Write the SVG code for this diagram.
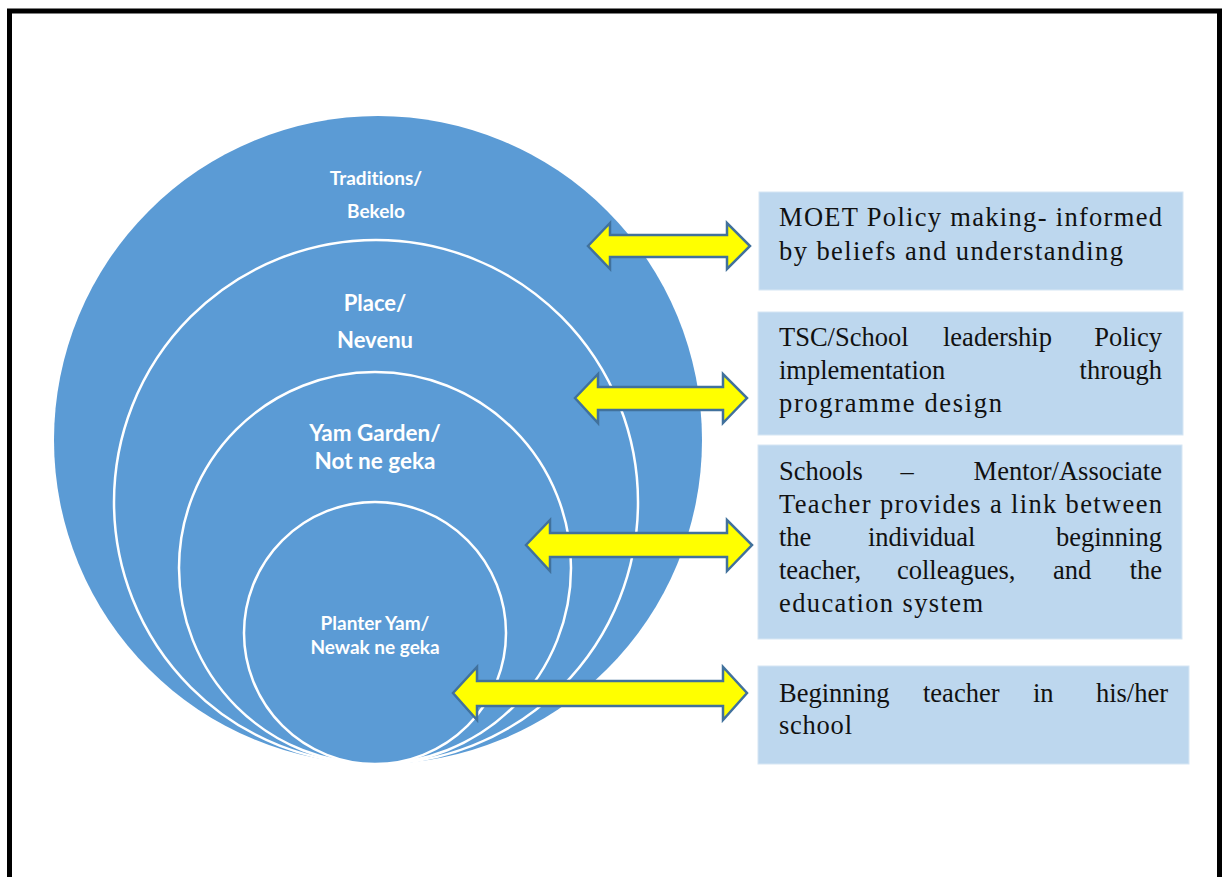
<svg xmlns="http://www.w3.org/2000/svg" width="1225" height="877" viewBox="0 0 1225 877">
<style>
.ring{fill:#5B9BD5;stroke:#FFFFFF;stroke-width:2.5}
.outer{fill:#5B9BD5;stroke:none}
.lbl{font-family:Lato,"Open Sans","Liberation Sans",sans-serif;font-weight:bold;fill:#FFFFFF;text-anchor:middle;font-variant-ligatures:none}
.box{fill:#BDD7EE;stroke:#D6E6F4;stroke-width:1}
.txt{font-family:"Liberation Serif","Times New Roman",serif;font-size:26.5px;fill:#111111}
.arrow{fill:#FFFF00;stroke:#41719C;stroke-width:2.5;stroke-linejoin:miter}
</style>
<rect x="0" y="0" width="1225" height="877" fill="#FFFFFF"/>
<rect x="9.5" y="11" width="1210" height="900" fill="none" stroke="#000000" stroke-width="5"/>

<g id="circle-traditions">
<circle class="outer" cx="378" cy="440" r="324"/>
<text class="lbl" x="376" y="185" font-size="19">Traditions/</text>
<text class="lbl" x="376" y="218" font-size="19">Bekelo</text>
</g>
<g id="circle-place">
<circle class="ring" cx="376" cy="502" r="262"/>
<text class="lbl" x="375" y="311" font-size="22">Place/</text>
<text class="lbl" x="375" y="348" font-size="22">Nevenu</text>
</g>
<g id="circle-yamgarden">
<circle class="ring" cx="375" cy="568" r="196"/>
<text class="lbl" x="375" y="441" font-size="22.5">Yam Garden/</text>
<text class="lbl" x="375" y="469" font-size="22.5">Not ne geka</text>
</g>
<g id="circle-planteryam">
<circle class="ring" cx="375" cy="633" r="131"/>
<text class="lbl" x="375" y="630" font-size="19">Planter Yam/</text>
<text class="lbl" x="375" y="654" font-size="19">Newak ne geka</text>
</g>

<g id="box-moet">
<rect class="box" x="759" y="192" width="424" height="98"/>
<text class="txt" x="779" y="226" textLength="383" lengthAdjust="spacing">MOET Policy making- informed</text>
<text class="txt" x="779" y="260" textLength="344" lengthAdjust="spacing">by beliefs and understanding</text>
</g>
<g id="box-tsc">
<rect class="box" x="758" y="312" width="425" height="123"/>
<text class="txt" y="346"><tspan x="779">TSC/School</tspan><tspan x="943">leadership</tspan><tspan x="1162" text-anchor="end">Policy</tspan></text>
<text class="txt" y="379"><tspan x="779">implementation</tspan><tspan x="1162" text-anchor="end">through</tspan></text>
<text class="txt" x="779" y="412" textLength="223" lengthAdjust="spacing">programme design</text>
</g>
<g id="box-schools">
<rect class="box" x="758" y="445" width="424" height="194"/>
<text class="txt" y="480"><tspan x="779">Schools</tspan><tspan x="907" text-anchor="middle">–</tspan><tspan x="1162" text-anchor="end">Mentor/Associate</tspan></text>
<text class="txt" x="779" y="513" textLength="383" lengthAdjust="spacing">Teacher provides a link between</text>
<text class="txt" y="546"><tspan x="779">the</tspan><tspan x="868">individual</tspan><tspan x="1162" text-anchor="end">beginning</tspan></text>
<text class="txt" y="579"><tspan x="779">teacher,</tspan><tspan x="897">colleagues,</tspan><tspan x="1053">and</tspan><tspan x="1162" text-anchor="end">the</tspan></text>
<text class="txt" x="779" y="612" textLength="204" lengthAdjust="spacing">education system</text>
</g>
<g id="box-beginning">
<rect class="box" x="758" y="666" width="431" height="98"/>
<text class="txt" y="702"><tspan x="779">Beginning</tspan><tspan x="923">teacher</tspan><tspan x="1033">in</tspan><tspan x="1168" text-anchor="end">his/her</tspan></text>
<text class="txt" x="779" y="734" textLength="73" lengthAdjust="spacing">school</text>
</g>

<g id="connectors">
<path class="arrow" d="M588,246 L610,223 L610,235 L727,235 L727,223 L750,246 L727,269 L727,257 L610,257 L610,269 Z"/>
<path class="arrow" d="M575,398 L598,374 L598,387 L723,387 L723,374 L747,398 L723,423 L723,410 L598,410 L598,423 Z"/>
<path class="arrow" d="M526,545 L550,520 L550,533 L727,533 L727,520 L752,545 L727,571 L727,557 L550,557 L550,571 Z"/>
<path class="arrow" d="M453,693 L477,667 L477,681 L723,681 L723,667 L747,693 L723,720 L723,706 L477,706 L477,720 Z"/>
</g>
</svg>
